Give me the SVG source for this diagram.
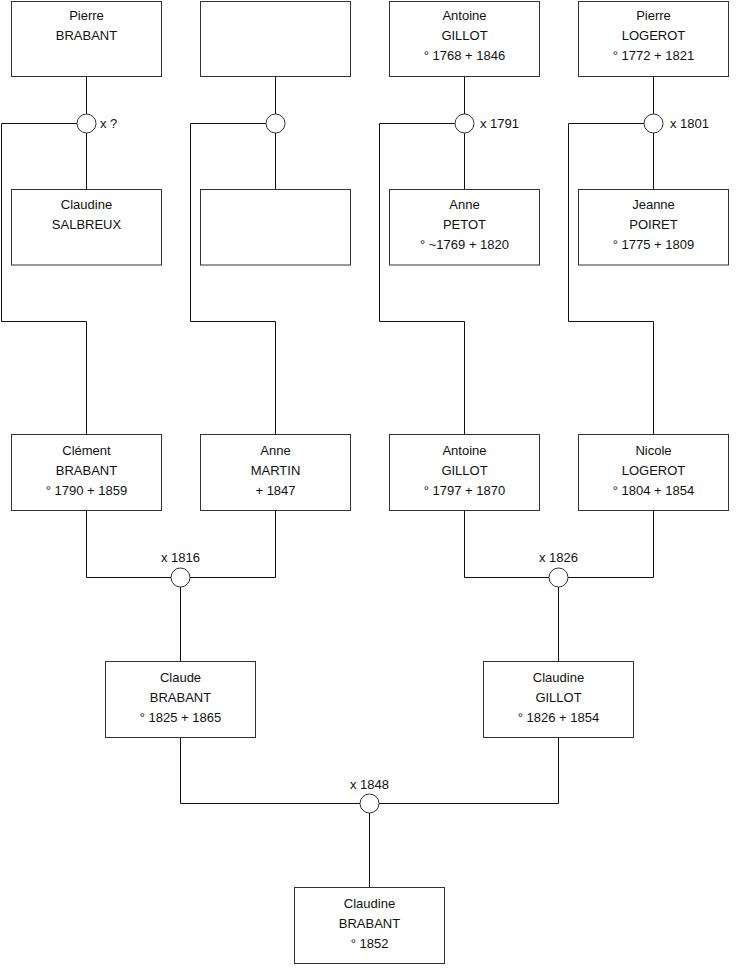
<svg xmlns="http://www.w3.org/2000/svg" width="740" height="975" viewBox="0 0 740 975">
<style>
.box{fill:#fff;stroke:#333;stroke-width:1}
.ln{fill:none;stroke:#111;stroke-width:1}
.mar{fill:#fff;stroke:#333;stroke-width:1}
text{font-family:"Liberation Sans",Arial,sans-serif;font-size:13px;fill:#111}
.c{text-anchor:middle}
</style>
<rect width="740" height="975" fill="#fff"/>
<g id="connectors">
<!-- top family 1 -->
<path class="ln" d="M86.5,76.5V114 M86.5,133V189.5 M77,123.5H1.5V321.5H86.5V434.5"/>
<path class="ln" d="M275.5,76.5V114 M275.5,133V189.5 M266,123.5H190.5V321.5H275.5V434.5"/>
<path class="ln" d="M464.5,76.5V114 M464.5,133V189.5 M455,123.5H379.5V321.5H464.5V434.5"/>
<path class="ln" d="M653.5,76.5V114 M653.5,133V189.5 M644,123.5H568.5V321.5H653.5V434.5"/>
<path class="ln" d="M86.5,510.5V577.5H171 M275.5,510.5V577.5H190 M180.5,587V661.5"/>
<path class="ln" d="M464.5,510.5V577.5H549 M653.5,510.5V577.5H568 M558.5,587V661.5"/>
<path class="ln" d="M180.5,737.5V803.5H360 M558.5,737.5V803.5H379 M369.5,813V887.5"/>
<circle class="mar" cx="86.5" cy="123.5" r="9.5"/>
<circle class="mar" cx="275.5" cy="123.5" r="9.5"/>
<circle class="mar" cx="464.5" cy="123.5" r="9.5"/>
<circle class="mar" cx="653.5" cy="123.5" r="9.5"/>
<circle class="mar" cx="180.5" cy="577.5" r="9.5"/>
<circle class="mar" cx="558.5" cy="577.5" r="9.5"/>
<circle class="mar" cx="369.5" cy="803.5" r="9.5"/>
<text x="100" y="128">x ?</text>
<text x="480" y="128">x 1791</text>
<text x="670" y="128">x 1801</text>
<text class="c" x="180.5" y="562">x 1816</text>
<text class="c" x="558.5" y="562">x 1826</text>
<text class="c" x="369.5" y="789">x 1848</text>
</g>
<g id="pierre-brabant">
<rect class="box" x="11.5" y="1.5" width="150" height="75"/>
<text class="c" x="86.5" y="19.5">Pierre</text>
<text class="c" x="86.5" y="39.5">BRABANT</text>
</g>
<g id="unknown-1">
<rect class="box" x="200.5" y="1.5" width="150" height="75"/>
</g>
<g id="antoine-gillot-1768">
<rect class="box" x="389.5" y="1.5" width="150" height="75"/>
<text class="c" x="464.5" y="19.5">Antoine</text>
<text class="c" x="464.5" y="39.5">GILLOT</text>
<text class="c" x="464.5" y="59.5">° 1768 + 1846</text>
</g>
<g id="pierre-logerot">
<rect class="box" x="578.5" y="1.5" width="150" height="75"/>
<text class="c" x="653.5" y="19.5">Pierre</text>
<text class="c" x="653.5" y="39.5">LOGEROT</text>
<text class="c" x="653.5" y="59.5">° 1772 + 1821</text>
</g>
<g id="claudine-salbreux">
<rect class="box" x="11.5" y="189.5" width="150" height="75.5"/>
<text class="c" x="86.5" y="209">Claudine</text>
<text class="c" x="86.5" y="229">SALBREUX</text>
</g>
<g id="unknown-2">
<rect class="box" x="200.5" y="189.5" width="150" height="75.5"/>
</g>
<g id="anne-petot">
<rect class="box" x="389.5" y="189.5" width="150" height="75.5"/>
<text class="c" x="464.5" y="209">Anne</text>
<text class="c" x="464.5" y="229">PETOT</text>
<text class="c" x="464.5" y="249">° ~1769 + 1820</text>
</g>
<g id="jeanne-poiret">
<rect class="box" x="578.5" y="189.5" width="150" height="75.5"/>
<text class="c" x="653.5" y="209">Jeanne</text>
<text class="c" x="653.5" y="229">POIRET</text>
<text class="c" x="653.5" y="249">° 1775 + 1809</text>
</g>
<g id="clement-brabant">
<rect class="box" x="11.5" y="434.5" width="150" height="76"/>
<text class="c" x="86.5" y="455">Clément</text>
<text class="c" x="86.5" y="475">BRABANT</text>
<text class="c" x="86.5" y="495">° 1790 + 1859</text>
</g>
<g id="anne-martin">
<rect class="box" x="200.5" y="434.5" width="150" height="76"/>
<text class="c" x="275.5" y="455">Anne</text>
<text class="c" x="275.5" y="475">MARTIN</text>
<text class="c" x="275.5" y="495">+ 1847</text>
</g>
<g id="antoine-gillot-1797">
<rect class="box" x="389.5" y="434.5" width="150" height="76"/>
<text class="c" x="464.5" y="455">Antoine</text>
<text class="c" x="464.5" y="475">GILLOT</text>
<text class="c" x="464.5" y="495">° 1797 + 1870</text>
</g>
<g id="nicole-logerot">
<rect class="box" x="578.5" y="434.5" width="150" height="76"/>
<text class="c" x="653.5" y="455">Nicole</text>
<text class="c" x="653.5" y="475">LOGEROT</text>
<text class="c" x="653.5" y="495">° 1804 + 1854</text>
</g>
<g id="claude-brabant">
<rect class="box" x="105.5" y="661.5" width="150" height="76"/>
<text class="c" x="180.5" y="682">Claude</text>
<text class="c" x="180.5" y="702">BRABANT</text>
<text class="c" x="180.5" y="722">° 1825 + 1865</text>
</g>
<g id="claudine-gillot">
<rect class="box" x="483.5" y="661.5" width="150" height="76"/>
<text class="c" x="558.5" y="682">Claudine</text>
<text class="c" x="558.5" y="702">GILLOT</text>
<text class="c" x="558.5" y="722">° 1826 + 1854</text>
</g>
<g id="claudine-brabant">
<rect class="box" x="294.5" y="887.5" width="150" height="76"/>
<text class="c" x="369.5" y="908">Claudine</text>
<text class="c" x="369.5" y="928">BRABANT</text>
<text class="c" x="369.5" y="948">° 1852</text>
</g>
</svg>
